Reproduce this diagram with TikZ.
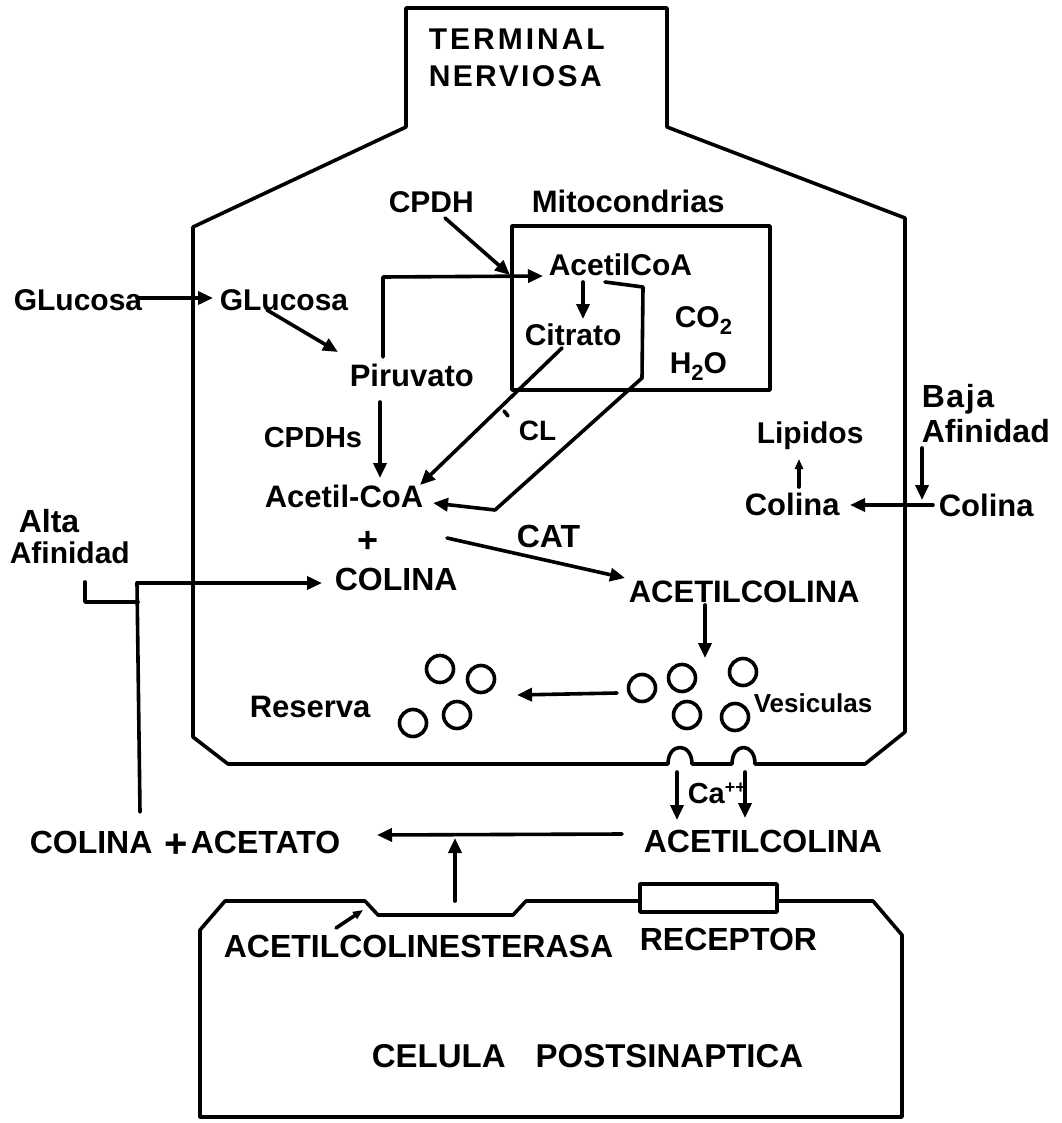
\documentclass[tikz,border=0pt]{standalone}
\usepackage{fontspec}
\setmainfont{Liberation Sans}
\usetikzlibrary{arrows.meta}
\newcommand{\fs}[1]{\bfseries\fontsize{#1}{#1}\selectfont}
\begin{document}
\begin{tikzpicture}[x=1pt,y=-1pt,
  line width=3.6pt, line join=round, line cap=round,
  lbl/.style={inner sep=0pt, anchor=base west, font=\fs{31}},
  arr/.style={-{Triangle[length=15pt,width=13pt]}},
  arrs/.style={-{Triangle[length=10pt,width=8pt]}},
  ves/.style={circle, draw, minimum size=27pt, inner sep=0pt, line width=3.6pt}]
\useasboundingbox[fill=white] (0,0) rectangle (1061,1123);

% ---------- nerve terminal outline ----------
\draw (406,8) -- (667,8) -- (667,127) -- (905,218) -- (905,732) -- (865,764)
  -- (755,764) .. controls (755,742) and (732,742) .. (732,764)
  -- (692,764) .. controls (692,742) and (668,742) .. (668,764)
  -- (228,764) -- (193,737) -- (193,227) -- (406,127) -- cycle;
% mitochondria
\draw (512,226) rectangle (770,390);

% ---------- postsynaptic cell ----------
\draw (200,1117) -- (200,930) -- (225,901) -- (365,901) -- (378,915) -- (513,915)
  -- (526,901) -- (640,901);
\draw (640,884) rectangle (777,912);
\draw (777,901) -- (873,901) -- (902,935) -- (902,1117) -- (200,1117);

% ---------- labels ----------
\node[lbl, font=\fs{30}\addfontfeatures{LetterSpace=10}] (term) at (427,50) {TERMINAL};
\node[lbl, font=\fs{30}\addfontfeatures{LetterSpace=8}] (nerv) at (427,87) {NERVIOSA};
\node[lbl, font=\fs{30}] (cpdh) at (387,213) {CPDH};
\node[lbl] (mito) at (530,213) {Mitocondrias};
\node[lbl, font=\fs{30}] (acoa1) at (547,275) {AcetilCoA};
\node[lbl, font=\fs{30}] (citr) at (523,345) {Citrato};
\node[lbl, font=\fs{30}] (co2) at (673,327) {CO\raisebox{-7pt}{\fs{22}2}};
\node[lbl, font=\fs{30}] (h2o) at (668,373) {H\raisebox{-7pt}{\fs{22}2}O};
\node[lbl, font=\fs{30}] (glu1) at (12,310) {GLucosa};
\node[lbl, font=\fs{30}] (glu2) at (218,310) {GLucosa};
\node[lbl] (piru) at (348,386) {Piruvato};
\node[lbl, font=\fs{29}] (cpdhs) at (262,447) {CPDHs};
\node[lbl, font=\fs{28}] (cl) at (517,440) {CL};
\node[lbl] (acoa2) at (263,507) {Acetil-CoA};
\node[lbl, font=\fs{30}] (lip) at (755,443) {Lipidos};
\node[lbl] (col1) at (743,515) {Colina};
\node[lbl] (col2) at (937,516) {Colina};
\node[lbl, font=\fs{32}\addfontfeatures{LetterSpace=5}] (baja) at (920,407) {Baja};
\node[lbl, font=\fs{32}] (baf) at (920,442) {Afinidad};
\node[lbl, font=\fs{32}] (alta) at (17,532) {Alta};
\node[lbl, font=\fs{30}] (aaf) at (8,563) {Afinidad};
\node[inner sep=0pt, font=\fs{36}] (plus) at (368,542) {+};
\node[lbl, font=\fs{32}] (col3) at (333,590) {COLINA};
\node[lbl, font=\fs{32}] (cat) at (515,547) {CAT};
\node[lbl] (ach1) at (627,602) {ACETILCOLINA};
\node[lbl] (res) at (248,717) {Reserva};
\node[lbl, font=\fs{26}] (vesl) at (752,712) {Vesiculas};
\node[lbl, font=\fs{29}] (ca) at (686,803) {Ca\raisebox{10pt}{\fs{18}++}};
\node[lbl, font=\fs{32}] (ach2) at (642,852) {ACETILCOLINA};
\node[lbl, font=\fs{32}] (colac) at (28,853) {COLINA\hspace{12pt}\raisebox{-4pt}{\fs{40}+}\hspace{3pt}ACETATO};
\node[lbl, font=\fs{32}] (ache) at (222,957) {ACETILCOLINESTERASA};
\node[lbl, font=\fs{32}] (rec) at (638,950) {RECEPTOR};
\node[lbl, font=\fs{33}] (post) at (370,1067) {CELULA\hspace{30pt}POSTSINAPTICA};

% ---------- vesicles ----------
\node[ves] (v1) at (642,688) {};
\node[ves] (v2) at (682,678) {};
\node[ves] (v3) at (743,672) {};
\node[ves] (v4) at (687,715) {};
\node[ves] (v5) at (735,717) {};
\node[ves] (r1) at (440,669) {};
\node[ves] (r2) at (481,679) {};
\node[ves] (r3) at (413,723) {};
\node[ves] (r4) at (457,715) {};

% ---------- connector points ----------
\coordinate (cpdhA) at (445,218);  \coordinate (mitoIn) at (510,275);
\coordinate (piruT) at (383,357);  \coordinate (loopC) at (383,277); \coordinate (acoa1W) at (543,276);
\coordinate (acoa1E) at (605,282); \coordinate (q1) at (643,287); \coordinate (q2) at (642,378);
\coordinate (q3) at (495,510);     \coordinate (acoa2E) at (433,503);
\coordinate (acoa1S) at (583,282); \coordinate (citrN) at (583,319);
\coordinate (citrS) at (562,348);  \coordinate (acoa2NE) at (420,485);
\coordinate (glu1E) at (137,298);  \coordinate (glu2W) at (213,298);
\coordinate (glu2S) at (267,310);  \coordinate (piruNW) at (338,352);
\coordinate (piruS) at (380,402);  \coordinate (acoa2N) at (380,478);
\coordinate (tickA) at (504,411);  \coordinate (tickB) at (508,416);
\coordinate (catS) at (447,538);   \coordinate (ach1W) at (625,578);
\coordinate (b1) at (85,582); \coordinate (b2) at (85,602); \coordinate (b3) at (138,602);
\coordinate (j1) at (137,583); \coordinate (j2) at (140,812); \coordinate (col3W) at (322,583);
\coordinate (ach1S) at (705,605);  \coordinate (vesN) at (705,658);
\coordinate (vesW) at (617,693);   \coordinate (resE) at (517,695);
\coordinate (ca1a) at (677,772);   \coordinate (ca1b) at (677,820);
\coordinate (ca2a) at (745,772);   \coordinate (ca2b) at (745,818);
\coordinate (ach2W) at (622,834);  \coordinate (acetE) at (377,835);
\coordinate (pock) at (455,901);   \coordinate (hline) at (455,838);
\coordinate (acheA) at (336,928);  \coordinate (acheB) at (363,910);
\coordinate (bafS) at (922,448);   \coordinate (col2W) at (922,500);
\coordinate (col2A) at (933,505);  \coordinate (col1E) at (850,505);
\coordinate (col1N) at (799,487);  \coordinate (lipS) at (799,459);

% ---------- connectors ----------
\draw[arr] (cpdhA) -- (mitoIn);
\draw[arr] (piruT) -- (loopC) -- (acoa1W);
\draw[arr] (acoa1E) -- (q1) -- (q2) -- (q3) -- (acoa2E);
\draw[arr] (acoa1S) -- (citrN);
\draw[arr] (citrS) -- (acoa2NE);
\draw (tickA) -- (tickB);
\draw[arr] (glu1E) -- (glu2W);
\draw[arr] (glu2S) -- (piruNW);
\draw[arr] (piruS) -- (acoa2N);
\draw[arr] (catS) -- (ach1W);
\draw (b1) -- (b2) -- (b3);
\draw (j2) -- (j1);
\draw[arr] (j1) -- (col3W);
\draw[arr] (ach1S) -- (vesN);
\draw[arr] (vesW) -- (resE);
\draw[arr] (ca1a) -- (ca1b);
\draw[arr] (ca2a) -- (ca2b);
\draw[arr] (ach2W) -- (acetE);
\draw[arr] (pock) -- (hline);
\draw[arrs] (acheA) -- (acheB);
\draw[arr] (bafS) -- (col2W);
\draw[arr] (col2A) -- (col1E);
\draw[arrs] (col1N) -- (lipS);
\end{tikzpicture}
\end{document}
